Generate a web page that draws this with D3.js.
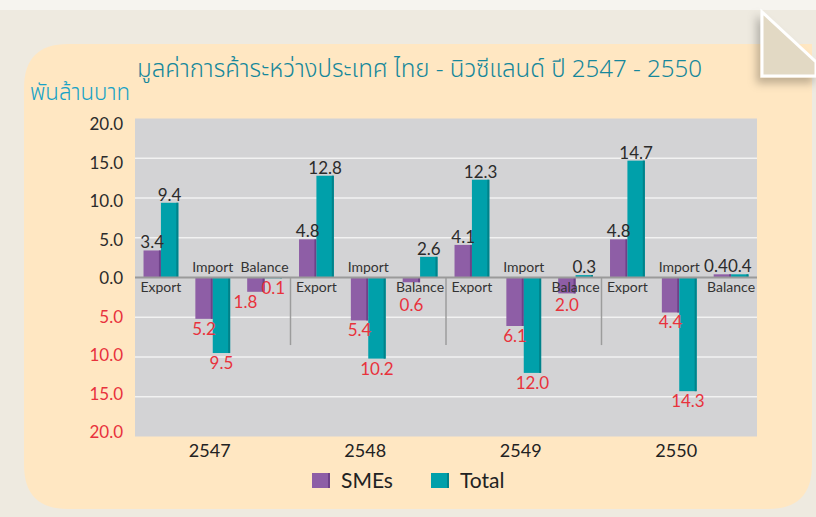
<!DOCTYPE html>
<html>
<head>
<meta charset="utf-8">
<script src="https://cdn.jsdelivr.net/npm/d3@7"></script>
<style>
  body { margin: 0; background: #EEEAE0; }
  svg { display: block; }
</style>
</head>
<body>
<div id="chart"></div>
<script>
// Data //
const years = ["2547", "2548", "2549", "2550"];
const flows = ["Export", "Import", "Balance"];
const seriesNames = ["SMEs", "Total"];
// billion baht, per year: [Export, Import, Balance]
const smesValues = [
    [3.4, -5.2, -1.8],
    [4.8, -5.4, -0.6],
    [4.1, -6.1, -2.0],
    [4.8, -4.4, 0.4]
];
const totalValues = [
    [9.4, -9.5, -0.1],
    [12.8, -10.2, 2.6],
    [12.3, -12.0, 0.3],
    [14.7, -14.3, 0.4]
];
const yTicks = [20, 15, 10, 5, 0, -5, -10, -15, -20];
const titleText = "มูลค่าการค้าระหว่างประเทศ ไทย - นิวซีแลนด์ ปี 2547 - 2550";
const unitText = "พันล้านบาท";

/* Canvas */
const W = 816, H = 517;
const plot = { left: 135, right: 757, top: 118.5, bottom: 436.5 };
const font = "Lato, 'DejaVu Sans', sans-serif";
const thaiFont = "'Noto Sans Thai', 'Noto Sans', sans-serif";
const colors = { SMEs: "#8E5EA6", Total: "#00A0AA" };
const sideColors = { SMEs: "#6E4188", Total: "#00828A" };
const red = "#E8323C";

const svg = d3.select("#chart").append("svg")
    .attr("width", W).attr("height", H);

// page background with a soft top shadow
const defs = svg.append("defs");
const shadow = defs.append("filter").attr("id", "shadow")
    .attr("x", "-30%").attr("y", "-30%").attr("width", "160%").attr("height", "160%");
shadow.append("feDropShadow").attr("dx", -4).attr("dy", 6).attr("stdDeviation", 4)
    .attr("flood-color", "#000").attr("flood-opacity", 0.25);

svg.append("rect").attr("width", W).attr("height", H).attr("fill", "#EEEAE0");
svg.append("rect").attr("width", W).attr("height", 10).attr("fill", "#F6F4EF");

// rounded peach panel
const px0 = 24, py0 = 44, px1 = 812, py1 = 509, r = 44;
svg.append("path")
    .attr("d", `M${px0 + r},${py0} H${px1} V${py1 - r} Q${px1},${py1} ${px1 - r},${py1}
                H${px0 + r} Q${px0},${py1} ${px0},${py1 - r} V${py0 + r} Q${px0},${py0} ${px0 + r},${py0} Z`)
    .attr("fill", "#FFE7C2");

// folded corner
svg.append("path")
    .attr("d", "M762,12 L762,76 L816,76 L816,62 Z")
    .attr("fill", "#E2D9C4")
    .attr("stroke", "#fff").attr("stroke-width", 3)
    .attr("filter", "url(#shadow)");

/* Scales */
const yScale = d3.scaleLinear().domain([-20, 20]).range([plot.bottom, plot.top]);
// tick labels sit on a slightly tighter spacing than the gridlines
const yLabelScale = d3.scaleLinear().domain([-20, 20]).range([432.5, 124.5]);
const x0 = d3.scaleBand().domain(years).range([plot.left, plot.right]);
const x1 = d3.scaleBand().domain(flows).range([0, x0.bandwidth()]);
const x2 = d3.scaleBand().domain(seriesNames).range([0, x1.bandwidth()])
    .paddingInner(0).paddingOuter(0.49);

// plot area
svg.append("rect")
    .attr("x", plot.left).attr("y", plot.top)
    .attr("width", plot.right - plot.left).attr("height", plot.bottom - plot.top)
    .attr("fill", "#D3D3D5");

svg.append("g").selectAll("line")
    .data(yTicks.filter(d => d !== 0 && d !== 20 && d !== -20))
    .join("line")
    .attr("x1", plot.left).attr("x2", plot.right)
    .attr("y1", d => yScale(d)).attr("y2", d => yScale(d))
    .attr("stroke", "#F2F2F2").attr("stroke-width", 1.5);

/* Y axis labels (negatives shown without sign, in red) */
const yAxis = d3.axisLeft(yLabelScale).tickValues(yTicks).tickSize(0).tickPadding(12)
    .tickFormat(d => Math.abs(d).toFixed(1));
const yg = svg.append("g").attr("transform", `translate(${plot.left},0)`).call(yAxis);
yg.select(".domain").remove();
yg.selectAll("text")
    .attr("font-family", font).attr("font-size", "17px")
    .attr("fill", d => d < 0 ? red : "#2B2B2B");

// group separators below zero
svg.append("g").selectAll("line")
    .data(years.slice(1))
    .join("line")
    .attr("x1", d => x0(d)).attr("x2", d => x0(d))
    .attr("y1", yScale(0)).attr("y2", yScale(-8.5))
    .attr("stroke", "#9C9C9C").attr("stroke-width", 1.5);

/* Bars */
const rows = [];
years.forEach((yr, i) => {
    flows.forEach((fl, j) => {
        seriesNames.forEach(s => {
            const v = (s === "SMEs" ? smesValues : totalValues)[i][j];
            rows.push({ year: yr, flow: fl, series: s, value: v, total: totalValues[i][j] });
        });
    });
});
const barX = d => x0(d.year) + x1(d.flow) + x2(d.series);
const bw = x2.bandwidth();

const bars = svg.append("g").selectAll("g").data(rows).join("g");
bars.append("rect")
    .attr("x", barX)
    .attr("y", d => yScale(Math.max(0, d.value)))
    .attr("width", bw)
    .attr("height", d => Math.abs(yScale(d.value) - yScale(0)))
    .attr("fill", d => colors[d.series]);
bars.append("rect")
    .attr("x", d => barX(d) + bw - 2)
    .attr("y", d => yScale(Math.max(0, d.value)))
    .attr("width", 2)
    .attr("height", d => Math.abs(yScale(d.value) - yScale(0)))
    .attr("fill", d => sideColors[d.series]);

// zero line
svg.append("line")
    .attr("x1", plot.left).attr("x2", plot.right)
    .attr("y1", yScale(0)).attr("y2", yScale(0))
    .attr("stroke", "#9A9A9A").attr("stroke-width", 2);

/* Flow labels: above axis when the total bar points down */
const flowRows = rows.filter(d => d.series === "SMEs");
svg.append("g").selectAll("text")
    .data(flowRows)
    .join("text")
    .attr("x", d => x0(d.year) + x1(d.flow) + x1.bandwidth() / 2)
    .attr("y", d => d.total < 0 ? yScale(0) - 10 : yScale(0) + 10)
    .attr("dy", "0.35em")
    .attr("text-anchor", "middle")
    .attr("font-family", font).attr("font-size", "14px")
    .attr("fill", "#333")
    .text(d => d.flow);

/* Value labels */
const labels = rows.map(d => {
    let y;
    if (d.value >= 0) y = yScale(d.value) - 8;
    else if (d.total >= 0) y = Math.max(yScale(d.value) + 10, yScale(0) + 28);
    else y = yScale(d.value) + 10;
    return Object.assign({}, d, { x: barX(d) + bw / 2, y: y });
});
const vText = svg.append("g").selectAll("text")
    .data(labels)
    .join("text")
    .attr("x", d => d.x)
    .attr("y", d => d.y)
    .attr("dy", "0.35em")
    .attr("text-anchor", "middle")
    .attr("font-family", font).attr("font-size", "17px")
    .attr("fill", d => d.value < 0 ? red : "#2B2B2B")
    .text(d => Math.abs(d.value).toFixed(1));

// nudge the SMEs label left when it collides with the Total label next to it
const nodes = vText.nodes();
for (let k = 0; k < nodes.length; k += 2) {
    const a = nodes[k].getBBox(), b = nodes[k + 1].getBBox();
    const overlapX = a.x + a.width - b.x;
    const overlapY = Math.min(a.y + a.height, b.y + b.height) - Math.max(a.y, b.y);
    if (overlapX > 0 && overlapY > 2) {
        const gap = labels[k].value < 0 ? 4 : 0;
        d3.select(nodes[k]).attr("x", labels[k].x - overlapX - gap);
    }
}

/* Year labels */
svg.append("g").selectAll("text")
    .data(years)
    .join("text")
    .attr("x", d => x0(d) + x0.bandwidth() / 2 - 3)
    .attr("y", 451)
    .attr("dy", "0.35em")
    .attr("text-anchor", "middle")
    .attr("font-family", font).attr("font-size", "18px")
    .attr("fill", "#222")
    .text(d => d);

/* Legend */
const legendX = [312, 431];
const legend = svg.append("g").selectAll("g")
    .data(seriesNames)
    .join("g")
    .attr("transform", (d, i) => `translate(${legendX[i]},473)`);
legend.append("rect").attr("width", 18).attr("height", 15).attr("fill", d => colors[d]);
legend.append("rect").attr("x", 16).attr("width", 2).attr("height", 15).attr("fill", d => sideColors[d]);
legend.append("text")
    .attr("x", 29).attr("y", 8).attr("dy", "0.35em")
    .attr("font-family", font).attr("font-size", "21px")
    .attr("fill", "#222")
    .text(d => d);

/* Title and unit */
const title = svg.append("text")
    .attr("x", 137).attr("y", 69).attr("dy", "0.35em")
    .attr("font-family", thaiFont).attr("font-size", "22px").attr("font-weight", 300)
    .attr("fill", "#16879B")
    .text(titleText);
const tw = title.node().getComputedTextLength();
title.attr("font-size", (22 * 565 / tw).toFixed(2) + "px");

const unit = svg.append("text")
    .attr("x", 30).attr("y", 92).attr("dy", "0.35em")
    .attr("font-family", thaiFont).attr("font-size", "22px").attr("font-weight", 300)
    .attr("fill", "#17A2C6")
    .text(unitText);
const uw = unit.node().getComputedTextLength();
unit.attr("font-size", (22 * 100 / uw).toFixed(2) + "px");
</script>
</body>
</html>
